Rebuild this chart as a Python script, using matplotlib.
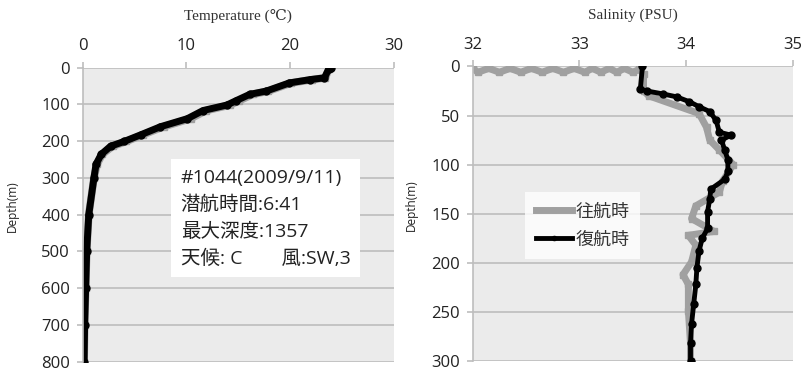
import matplotlib
matplotlib.use("Agg")
import matplotlib.pyplot as plt

# temperature profile (deg C) vs depth (m)
temp_depth_down = [0, 5, 28, 33, 42, 64, 73, 90, 102, 117, 139, 161, 183, 201, 214, 236, 263, 300, 400, 500, 600, 700, 800]
temp_down = [23.8, 23.7, 23.4, 22.1, 20.1, 17.9, 16.4, 15.1, 14.2, 11.9, 10.4, 7.8, 5.8, 4.2, 2.9, 1.9, 1.4, 1.1, 0.6, 0.4, 0.3, 0.2, 0.15]
temp_depth_up = [0, 5, 28, 33, 42, 64, 73, 90, 102, 117, 139, 161, 183, 201, 214, 236, 263, 300, 400, 500, 600, 700, 800]
temp_up = [23.9, 23.7, 23.3, 21.9, 19.9, 17.7, 16.1, 14.8, 13.9, 11.6, 10.1, 7.5, 5.6, 4.0, 2.7, 1.8, 1.3, 1.1, 0.6, 0.4, 0.3, 0.2, 0.15]

# salinity profile (PSU) vs depth (m)
sal_depth_down = [2, 6, 2, 6, 2, 6, 2, 6, 2, 6, 2, 6, 2, 6, 2, 6, 2, 6, 3, 8, 25, 30, 48, 62, 75, 85, 100, 117, 128, 142, 155, 168, 172, 182, 199, 212, 222, 249, 282, 300]
sal_down = [32.0, 32.05, 32.15, 32.25, 32.35, 32.45, 32.55, 32.65, 32.75, 32.85, 32.95, 33.05, 33.12, 33.2, 33.28, 33.35, 33.42, 33.5, 33.56, 33.6, 33.6, 33.65, 34.12, 34.19, 34.22, 34.31, 34.44, 34.34, 34.31, 34.09, 34.05, 34.26, 34.02, 34.09, 34.05, 33.97, 34.02, 34.02, 34.04, 34.04]
sal_depth_up = [0, 23, 25, 28, 31, 36, 41, 46, 55, 67, 70, 75, 85, 95, 107, 115, 125, 135, 148, 165, 175, 188, 205, 222, 242, 262, 282, 300]
sal_up = [33.59, 33.57, 33.63, 33.78, 33.91, 34.03, 34.12, 34.22, 34.28, 34.31, 34.42, 34.33, 34.36, 34.39, 34.39, 34.36, 34.23, 34.22, 34.20, 34.20, 34.15, 34.12, 34.10, 34.09, 34.07, 34.05, 34.04, 34.04]

info_lines = ["#1044(2009/9/11)", "潜航時間:6:41", "最大深度:1357", "天候: C　　風:SW,3"]
legend_labels = ["往航時", "復航時"]

sans = ["Open Sans", "Noto Sans CJK JP", "DejaVu Sans"]
serif = ["Liberation Serif", "DejaVu Serif", "DejaVu Sans"]
plt.rcParams["font.family"] = sans

fig = plt.figure(figsize=(8.1, 3.73), dpi=100)
ax1 = fig.add_axes([0.1019, 0.03, 0.3845, 0.789])
ax2 = fig.add_axes([0.5836, 0.032, 0.3954, 0.79])

bg = "#ebebeb"
gridc = "#bdbdbd"


def style(ax, xticks, yticks, label_x):
    ax.set_facecolor(bg)
    ax.xaxis.tick_top()
    ax.set_xticks(xticks)
    ax.set_yticks(yticks)
    ax.set_xlim(xticks[0], xticks[-1])
    ax.set_ylim(yticks[-1], yticks[0])
    ax.grid(axis="y", color=gridc, linewidth=1.2)
    ax.set_axisbelow(True)
    for s in ["top", "right", "bottom"]:
        ax.spines[s].set_visible(False)
    ax.spines["left"].set_color(gridc)
    ax.spines["left"].set_linewidth(1.2)
    ax.tick_params(axis="both", colors=gridc, labelcolor="#222222", labelsize=12, length=4, width=1.2)
    ax.tick_params(axis="x", pad=6)
    ax.tick_params(axis="y", pad=5)
    ax.set_ylabel("Depth(m)", fontsize=8.5, color="#222222")
    ax.yaxis.set_label_coords(label_x, 0.53)


style(ax1, [0, 10, 20, 30], [0, 100, 200, 300, 400, 500, 600, 700, 800], -0.205)
style(ax2, [32, 33, 34, 35], [0, 50, 100, 150, 200, 250, 300], -0.17)

ax1.plot(temp_down, temp_depth_down, color="#a0a0a0", lw=5.5, marker="s", ms=4, solid_capstyle="round")
ax1.plot(temp_up, temp_depth_up, color="black", lw=5, marker="o", ms=5, solid_capstyle="round")
ax1.set_title("Temperature (℃)", family=serif, fontsize=11, pad=13, color="#333333")

ax1.text(0.315, 0.655, "\n".join(info_lines), transform=ax1.transAxes, fontsize=14,
         va="top", ha="left", linespacing=1.6, color="#222222",
         bbox=dict(facecolor="white", edgecolor="none", boxstyle="square,pad=0.5"))

ax2.plot(sal_down, sal_depth_down, color="#a0a0a0", lw=5, marker="s", ms=4, label=legend_labels[0])
ax2.plot(sal_up, sal_depth_up, color="black", lw=3.5, marker="o", ms=5, label=legend_labels[1])
ax2.set_title("Salinity (PSU)", family=serif, fontsize=11, pad=13, color="#333333")

leg = ax2.legend(loc="upper left", bbox_to_anchor=(0.135, 0.605), fontsize=13, frameon=True,
                 fancybox=False, handlelength=2.0, handletextpad=0.2, labelspacing=0.55,
                 borderpad=0.6, markerscale=0.6)
leg.get_frame().set_facecolor("white")
leg.get_frame().set_edgecolor("none")
for t in leg.get_texts():
    t.set_color("#333333")

fig.savefig("out.png", dpi=100)
